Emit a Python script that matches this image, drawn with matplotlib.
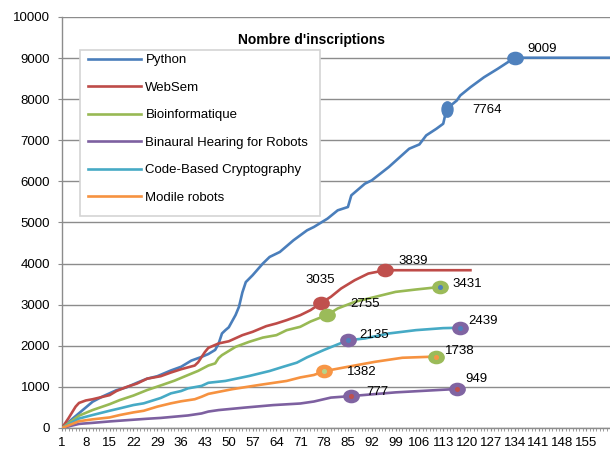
import matplotlib
matplotlib.use("Agg")
import matplotlib.pyplot as plt
from matplotlib.patches import Rectangle
from matplotlib.path import Path
from matplotlib.transforms import Affine2D

plt.rcParams["font.family"] = ["Liberation Sans", "DejaVu Sans"]

# ---- data (cumulative registrations per day) ----
n_days = 162

days_py = [1, 4, 7, 10, 13, 17, 20, 23, 26, 29, 33, 36, 39, 42, 44, 46, 47, 48, 49, 50,
           51, 52, 53, 54, 55, 57, 60, 62, 65, 69, 73, 75, 79, 82, 85, 86, 90, 92, 97, 103,
           106, 108, 111, 113, 114, 117, 118, 121, 125, 129, 134, 162]
vals_py = [0, 220, 430, 640, 770, 920, 990, 1100, 1200, 1260, 1400, 1490, 1640, 1730, 1800, 1900, 2050, 2300, 2380, 2450,
           2600, 2750, 2950, 3300, 3550, 3717, 4001, 4162, 4283, 4567, 4810, 4891, 5094, 5296, 5377, 5661, 5945, 6025, 6349, 6795,
           6900, 7119, 7281, 7403, 7764, 7969, 8090, 8292, 8535, 8739, 9009, 9009]

days_ws = [1, 3, 5, 6, 8, 10, 12, 15, 17, 20, 23, 26, 30, 33, 36, 40, 41, 43, 44, 47,
           50, 54, 57, 61, 64, 67, 71, 74, 77, 80, 83, 87, 91, 96, 121]
vals_ws = [0, 250, 520, 610, 670, 700, 740, 800, 900, 1000, 1080, 1200, 1260, 1350, 1430, 1520, 1600, 1850, 1950, 2057,
           2110, 2259, 2340, 2478, 2544, 2624, 2745, 2867, 3035, 3192, 3394, 3596, 3758, 3839, 3839]

days_bio = [1, 6, 10, 15, 18, 22, 26, 30, 34, 38, 41, 44, 46, 47, 48, 52, 56, 60, 64, 67,
            71, 74, 79, 82, 87, 93, 99, 105, 112]
vals_bio = [0, 300, 437, 580, 680, 790, 923, 1035, 1150, 1288, 1390, 1520, 1572, 1700, 1773, 1975, 2097, 2200, 2259, 2380,
            2462, 2590, 2755, 2908, 3069, 3190, 3312, 3370, 3431]

days_bh = [1, 6, 10, 15, 20, 26, 30, 34, 38, 42, 44, 47, 55, 63, 71, 75, 80, 86, 99, 117]
vals_bh = [0, 100, 125, 160, 190, 225, 245, 275, 305, 354, 400, 436, 499, 557, 596, 644, 740, 777, 867, 949]

days_cbc = [1, 6, 10, 15, 18, 22, 25, 30, 33, 36, 38, 42, 44, 49, 56, 62, 66, 70, 73, 78,
            85, 90, 97, 105, 113, 118]
vals_cbc = [0, 230, 316, 420, 478, 559, 600, 730, 843, 900, 964, 1024, 1100, 1145, 1266, 1387, 1490, 1590, 1720, 1900,
            2135, 2179, 2300, 2381, 2430, 2439]

days_mr = [1, 6, 10, 15, 18, 22, 25, 29, 33, 36, 40, 42, 44, 51, 59, 67, 71, 75, 78, 85,
           93, 101, 111]
vals_mr = [0, 165, 211, 257, 316, 380, 419, 520, 600, 650, 700, 760, 830, 944, 1048, 1145, 1230, 1290, 1382, 1490,
           1611, 1709, 1738]

# labelled points (days) per series
marks_py = [114, 134]
marks_ws = [77, 96]
marks_bio = [79, 112]
marks_bh = [86, 117]
marks_cbc = [85, 118]
marks_mr = [78, 111]

series = [
    ("Python", days_py, vals_py, marks_py),
    ("WebSem", days_ws, vals_ws, marks_ws),
    ("Bioinformatique", days_bio, vals_bio, marks_bio),
    ("Binaural Hearing for Robots", days_bh, vals_bh, marks_bh),
    ("Code-Based Cryptography", days_cbc, vals_cbc, marks_cbc),
    ("Modile robots", days_mr, vals_mr, marks_mr),
]

# ---- style ----
line_colors = {
    "Python": "#4A7EBB",
    "WebSem": "#BE4B48",
    "Bioinformatique": "#98B954",
    "Binaural Hearing for Robots": "#7D60A0",
    "Code-Based Cryptography": "#46AAC5",
    "Modile robots": "#F69240",
}
BLUE, RED, GREEN, PURPLE, ORANGE = "#4F81BD", "#C0504D", "#9BBB59", "#8064A2", "#F79646"

# (fill, dot, text offset in points, tall marker)
mark_style = {
    ("Python", 114): (BLUE, BLUE, (28.9, -0.6), True),
    ("Python", 134): (BLUE, BLUE, (19.5, 6.4), False),
    ("WebSem", 77): (RED, RED, (-0.7, 16.6), False),
    ("WebSem", 96): (RED, RED, (20.0, 6.8), False),
    ("Bioinformatique", 79): (GREEN, GREEN, (26.7, 8.1), False),
    ("Bioinformatique", 112): (GREEN, BLUE, (19.7, 2.5), False),
    ("Binaural Hearing for Robots", 86): (PURPLE, RED, (18.5, 2.9), False),
    ("Binaural Hearing for Robots", 117): (PURPLE, RED, (13.8, 7.2), False),
    ("Code-Based Cryptography", 85): (PURPLE, BLUE, (19.2, 3.6), False),
    ("Code-Based Cryptography", 118): (PURPLE, BLUE, (16.6, 4.8), False),
    ("Modile robots", 78): (ORANGE, "#B5D48A", (27.0, -0.4), False),
    ("Modile robots", 111): (GREEN, ORANGE, (16.6, 4.2), False),
}

wide = Path.unit_circle().transformed(Affine2D().scale(1.0, 0.8))
tall = Path.unit_circle().transformed(Affine2D().scale(0.72, 1.0))

GRID = "#8C8C8C"
FS = 9.5

fig = plt.figure(figsize=(6.1, 4.49), dpi=100)
ax = fig.add_axes([62 / 610, 21 / 449, 548 / 610, 411 / 449])

handles = {}
for name, d, v, marks in series:
    (ln,) = ax.plot(d, v, color=line_colors[name], lw=1.9, label=name, zorder=3,
                    solid_joinstyle="round")
    handles[name] = ln
    for m in marks:
        val = v[d.index(m)]
        fill, dot, off, is_tall = mark_style[(name, m)]
        ax.plot([m], [val], ls="none", marker=tall if is_tall else wide, ms=11,
                mfc=fill, mec=fill, zorder=5)
        ax.plot([m], [val], ls="none", marker="o", ms=2.6, mfc=dot, mec=dot, zorder=6)
        ax.annotate(str(val), (m, val), xytext=off, textcoords="offset points",
                    ha="center", va="center", fontsize=FS, zorder=7)

ax.set_xlim(1, n_days)
ax.set_ylim(0, 10000)
ax.set_yticks(range(0, 10001, 1000))
ax.set_xticks(range(1, 156, 7))
ax.set_xticks(range(1, n_days + 1), minor=True)

ax.grid(axis="y", color=GRID, lw=1.0)
ax.set_axisbelow(True)
for s in ("top", "right"):
    ax.spines[s].set_visible(False)
for s in ("left", "bottom"):
    ax.spines[s].set_color(GRID)
    ax.spines[s].set_linewidth(1.0)

ax.tick_params(axis="y", length=3, color=GRID, pad=5.5, labelsize=FS)
ax.tick_params(axis="x", which="both", length=2.5, color=GRID, pad=4, labelsize=FS)

# legend box
ax.add_patch(Rectangle((18 / 548, 212 / 411), 240 / 548, 166 / 411, transform=ax.transAxes,
                       facecolor="white", edgecolor="#D4D4D4", lw=1.2, zorder=8))
order = ["Python", "WebSem", "Bioinformatique", "Binaural Hearing for Robots",
         "Code-Based Cryptography", "Modile robots"]
leg = ax.legend([handles[k] for k in order], order, loc="upper left",
                bbox_to_anchor=(26 / 548, 374 / 411), frameon=False, fontsize=FS,
                handlelength=4.0, handletextpad=0.35, labelspacing=1.16,
                borderpad=0, borderaxespad=0)
leg.set_zorder(9)

fig.text(311 / 610, 1 - 40 / 449, "Nombre d'inscriptions", ha="center", va="center",
         fontsize=10, fontweight="bold")

fig.savefig("out.png", dpi=100)
